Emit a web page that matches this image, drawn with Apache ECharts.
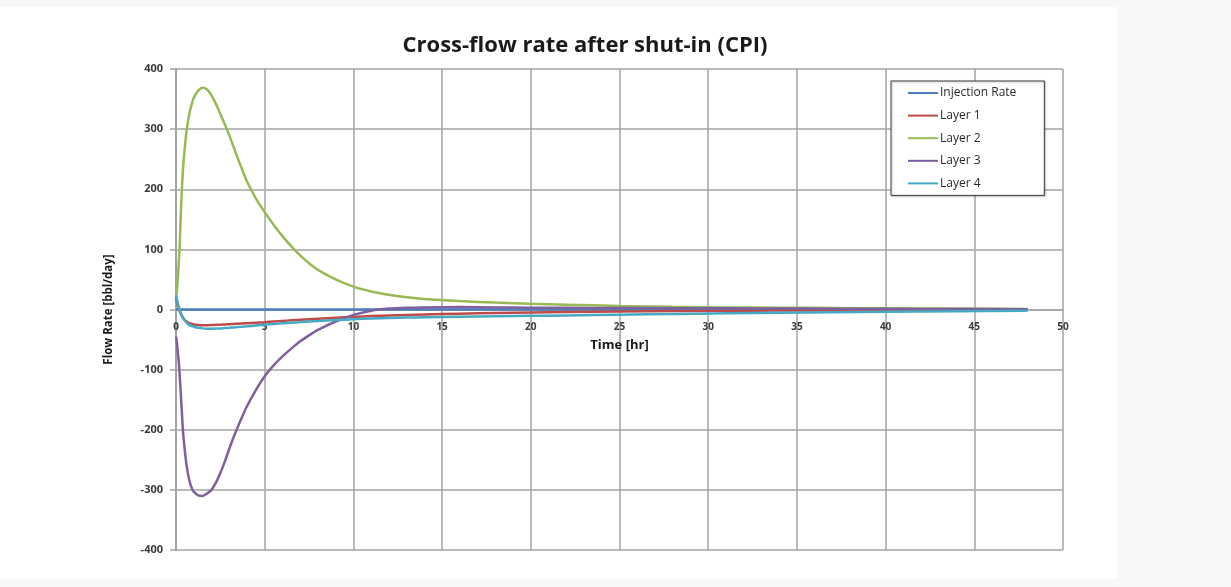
<!DOCTYPE html>
<html>
<head>
<meta charset="utf-8">
<script src="https://cdn.jsdelivr.net/npm/echarts@6/dist/echarts.min.js"></script>
<style>
  html, body { margin: 0; padding: 0; width: 1231px; height: 587px; background: #f7f8fa; overflow: hidden; }
  #panel { position: absolute; left: 0; top: 7px; width: 1117px; height: 571px; background: #ffffff; }
  #chart { width: 1117px; height: 571px; }
</style>
</head>
<body>
<div id="panel"><div id="chart"></div></div>
<script>
// Time since shut-in, hours
const timeHr = [0, 0.05, 0.1, 0.15, 0.2, 0.3, 0.4, 0.5, 0.6, 0.75, 0.9, 1, 1.25, 1.5, 1.75, 2, 2.25, 2.5, 2.75, 3, 3.25, 3.5, 3.75, 4, 4.5, 5, 5.5, 6, 6.5, 7, 7.5, 8, 9, 10, 11, 12, 13, 14, 16, 18, 20, 22, 25, 28, 31, 34, 37, 40, 44, 48];

// Flow rates, bbl/day
const injectionRate = [0, 0, 0, 0, 0, 0, 0, 0, 0, 0, 0, 0, 0, 0, 0, 0, 0, 0, 0, 0, 0, 0, 0, 0, 0, 0, 0, 0, 0, 0, 0, 0, 0, 0, 0, 0, 0, 0, 0, 0, 0, 0, 0, 0, 0, 0, 0, 0, 0, 0];
const layer1 = [20, 14, 8, 3, -2, -9, -14, -17.5, -20, -22.5, -24, -24.8, -25.7, -26, -26, -25.8, -25.5, -25.2, -24.8, -24.4, -24, -23.6, -23.2, -22.8, -21.9, -21, -20, -19, -18, -17, -16.2, -15.4, -13.8, -12.3, -11, -10, -9, -8.2, -6.9, -5.8, -5, -4.3, -3.4, -2.7, -2.2, -1.8, -1.4, -1.1, -0.8, -0.5];
const layer2 = [20, 30, 50, 75, 100, 180, 235, 270, 298, 325, 343, 352, 364, 369, 366, 356, 342, 325, 308, 290, 270, 250, 231, 213, 185, 162, 141, 122, 105, 90, 77, 66, 50, 38, 30, 24.5, 20.5, 17.5, 14, 11.5, 9.5, 8, 6, 4.5, 3.5, 3, 2.5, 2, 1.5, 1];
const layer3 = [-45, -55, -70, -85, -105, -155, -205, -235, -260, -284, -298, -303, -309, -310, -306, -300, -288, -272, -253, -232, -212, -194, -177, -161, -134, -111, -93, -78, -65, -53, -43, -34, -20, -9, -2, 1.5, 3, 3.5, 4, 3.5, 3, 2.8, 2.5, 2.2, 2, 1.7, 1.4, 1.1, 0.8, 0.5];
const layer4 = [24, 17, 10, 5, 0, -8, -14, -18.5, -22, -25.5, -27.8, -28.8, -30.5, -31.4, -31.9, -32, -31.8, -31.4, -30.9, -30.4, -29.8, -29.2, -28.6, -28, -26.6, -25.2, -24, -23, -22, -21, -20, -19.2, -17.6, -16.2, -15, -14.2, -13.5, -13, -12.2, -11.4, -10.6, -9.8, -8.6, -7.4, -6.4, -5.5, -4.6, -3.8, -2.9, -2];

const seriesNames = ['Injection Rate', 'Layer 1', 'Layer 2', 'Layer 3', 'Layer 4'];
const seriesColors = ['#4a7ebb', '#be4b48', '#98b954', '#7d60a0', '#46aac5'];
const seriesValues = [injectionRate, layer1, layer2, layer3, layer4];

const xTicks = { min: 0, max: 50, step: 5 };
const yTicks = { min: -400, max: 400, step: 100 };

const pairs = vals => timeHr.map((t, i) => [t, vals[i]]);

const gridColor = '#a3a3a3';
const plotTop = 62, plotBottom = 28, chartHeight = 571;
// The time axis sits on the zero-flow line, half-way down the plot
const zeroLineOffset = -(chartHeight - plotTop - plotBottom) / 2;

const chart = echarts.init(document.getElementById('chart'), null, { renderer: 'canvas' });

chart.setOption({
  animation: false,
  backgroundColor: '#ffffff',
  textStyle: { fontFamily: 'Open Sans, Liberation Sans, sans-serif' },
  title: {
    text: 'Cross-flow rate after shut-in (CPI)',
    left: 580, top: 23,
    textAlign: 'center',
    textStyle: { fontSize: 22, fontWeight: 'bold', color: '#1a1a1a', fontFamily: 'Open Sans, sans-serif' }
  },
  grid: { left: 176, right: 54, top: plotTop, bottom: plotBottom, containLabel: false, outerBoundsMode: 'none' },
  legend: {
    orient: 'vertical',
    left: 891, top: 74,
    data: seriesNames,
    itemWidth: 30, itemHeight: 14, itemGap: 10.6,
    padding: [6, 28, 6, 16],
    borderColor: '#3c3c3c', borderWidth: 1,
    backgroundColor: '#ffffff',
    shadowColor: 'rgba(0,0,0,0.25)', shadowBlur: 2, shadowOffsetX: 1, shadowOffsetY: 1,
    itemStyle: { opacity: 0 },
    textStyle: { fontSize: 12, color: '#2b2b2b', padding: [0, 0, 0, -3] }
  },
  xAxis: {
    type: 'value',
    min: xTicks.min, max: xTicks.max, interval: xTicks.step,
    offset: zeroLineOffset,
    name: 'Time [hr]', nameLocation: 'middle', nameGap: 29,
    nameTextStyle: { fontSize: 13, fontWeight: 'bold', color: '#1a1a1a' },
    axisLine: { show: true, onZero: false, lineStyle: { color: gridColor, width: 1.5 } },
    axisTick: { show: false },
    axisLabel: { fontSize: 10, fontWeight: 'bold', color: '#3a3a3a', margin: 13 },
    splitLine: { show: true, lineStyle: { color: gridColor, width: 1.5 } }
  },
  yAxis: {
    type: 'value',
    min: yTicks.min, max: yTicks.max, interval: yTicks.step,
    name: 'Flow Rate [bbl/day]', nameLocation: 'middle', nameGap: 61, nameRotate: 90,
    nameTextStyle: { fontSize: 11.5, fontWeight: 'bold', color: '#1a1a1a' },
    axisLine: { show: true, onZero: false, lineStyle: { color: gridColor, width: 2 } },
    axisTick: { show: true, length: 6, lineStyle: { color: gridColor, width: 1.5 } },
    axisLabel: { fontSize: 11, fontWeight: 'bold', color: '#3a3a3a', margin: 13 },
    splitLine: { show: true, lineStyle: { color: gridColor, width: 1.5 } }
  },
  series: seriesNames.map((name, i) => ({
    name,
    type: 'line',
    data: pairs(seriesValues[i]),
    symbol: 'none',
    smooth: 0.3,
    color: seriesColors[i],
    lineStyle: { color: seriesColors[i], width: 2.5 },
    z: 3 + i
  }))
});
</script>
</body>
</html>
